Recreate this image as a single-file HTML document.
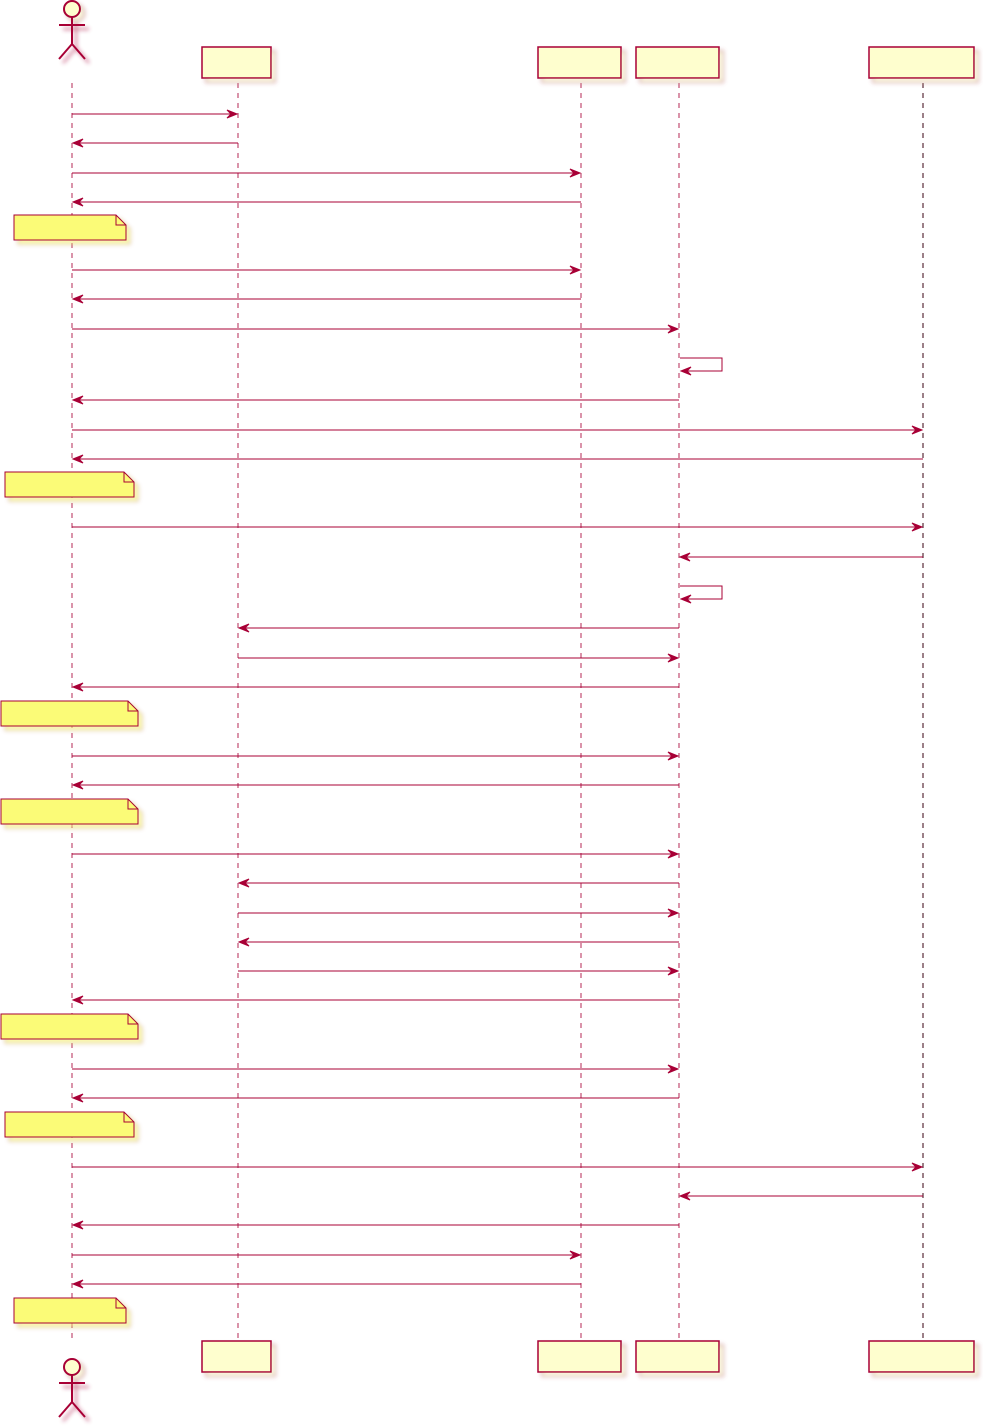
<!DOCTYPE html>
<html><head><meta charset="utf-8"><style>html,body{margin:0;padding:0;background:#fff}svg{display:block}</style></head>
<body>
<svg id="s" width="983" height="1426" xmlns="http://www.w3.org/2000/svg">
<defs>
<filter id="sh" x="-20%" y="-20%" width="150%" height="160%"><feGaussianBlur stdDeviation="2"/><feOffset dx="4" dy="4"/><feComponentTransfer><feFuncA type="linear" slope="0.6"/></feComponentTransfer><feMerge><feMergeNode/><feMergeNode in="SourceGraphic"/></feMerge></filter>
</defs>
<g id="g"></g>
</svg>
<script>
var g=document.getElementById('g'),h='';
var C='#A80036';
var X={a:72,b:238,c:581,d:679,e:923};
['a','b','c','d'].forEach(function(k){h+='<line x1="'+X[k]+'" y1="83" x2="'+X[k]+'" y2="1340" stroke="'+C+'" stroke-opacity="0.7" stroke-width="1.2" stroke-dasharray="5,5"/>';});
h+='<line x1="923" y1="83" x2="923" y2="1340" stroke="#3a0010" stroke-width="1" stroke-dasharray="5,5"/>';
[[202,69],[538,83],[636,83],[869,105]].forEach(function(b){
 [47,1341].forEach(function(y){h+='<rect x="'+b[0]+'" y="'+y+'" width="'+b[1]+'" height="31" fill="#FEFECE" stroke="'+C+'" stroke-width="1.5" filter="url(#sh)"/>';});
});
function actor(cy){return '<g filter="url(#sh)" stroke="'+C+'" stroke-width="2" fill="none"><circle cx="72" cy="'+cy+'" r="8" fill="#FEFECE"/><line x1="72" y1="'+(cy+8)+'" x2="72" y2="'+(cy+35)+'"/><line x1="59" y1="'+(cy+16)+'" x2="85" y2="'+(cy+16)+'"/><line x1="72" y1="'+(cy+35)+'" x2="59" y2="'+(cy+50)+'"/><line x1="72" y1="'+(cy+35)+'" x2="85" y2="'+(cy+50)+'"/></g>';}
h+=actor(9);h+=actor(1367);
var M=[[114,'a','b'],[143,'b','a'],[173,'a','c'],[202,'c','a'],[270,'a','c'],[299,'c','a'],[329,'a','d'],[400,'d','a'],[430,'a','e'],[459,'e','a'],[527,'a','e'],[557,'e','d'],[628,'d','b'],[658,'b','d'],[687,'d','a'],[756,'a','d'],[785,'d','a'],[854,'a','d'],[883,'d','b'],[913,'b','d'],[942,'d','b'],[971,'b','d'],[1000,'d','a'],[1069,'a','d'],[1098,'d','a'],[1167,'a','e'],[1196,'e','d'],[1225,'d','a'],[1255,'a','c'],[1284,'c','a']];
function head(x,y,dir){var b=x-dir*10;
 return '<polygon points="'+x+','+y+' '+b+','+(y-4)+' '+(x-dir*6)+','+y+' '+b+','+(y+4)+'" fill="'+C+'" stroke="'+C+'" stroke-width="1"/>';}
M.forEach(function(m){var x1=X[m[1]],x2=X[m[2]],d=x2>x1?1:-1;var xe=x2-d*1;
 h+='<line x1="'+x1+'" y1="'+m[0]+'" x2="'+xe+'" y2="'+m[0]+'" stroke="'+C+'" stroke-width="1"/>'+head(xe,m[0],d);});
[358,586].forEach(function(y){h+='<polyline points="680,'+y+' 722,'+y+' 722,'+(y+13)+' 681,'+(y+13)+'" fill="none" stroke="'+C+'" stroke-width="1"/>'+head(681,y+13,-1);});
[[14,126,215],[5,134,472],[1,138,701],[1,138,799],[1,138,1014],[5,134,1112],[14,126,1298]].forEach(function(n){
 var x1=n[0],x2=n[1],y=n[2],y2=y+25;
 h+='<path d="M'+x1+','+y+' L'+(x2-10)+','+y+' L'+x2+','+(y+10)+' L'+x2+','+y2+' L'+x1+','+y2+' Z" fill="#FBFB77" stroke="'+C+'" stroke-width="1" filter="url(#sh)"/>';
 h+='<path d="M'+(x2-10)+','+y+' L'+(x2-10)+','+(y+10)+' L'+x2+','+(y+10)+'" fill="none" stroke="'+C+'" stroke-width="1"/>';
});
g.innerHTML=h;
</script>
</body></html>
